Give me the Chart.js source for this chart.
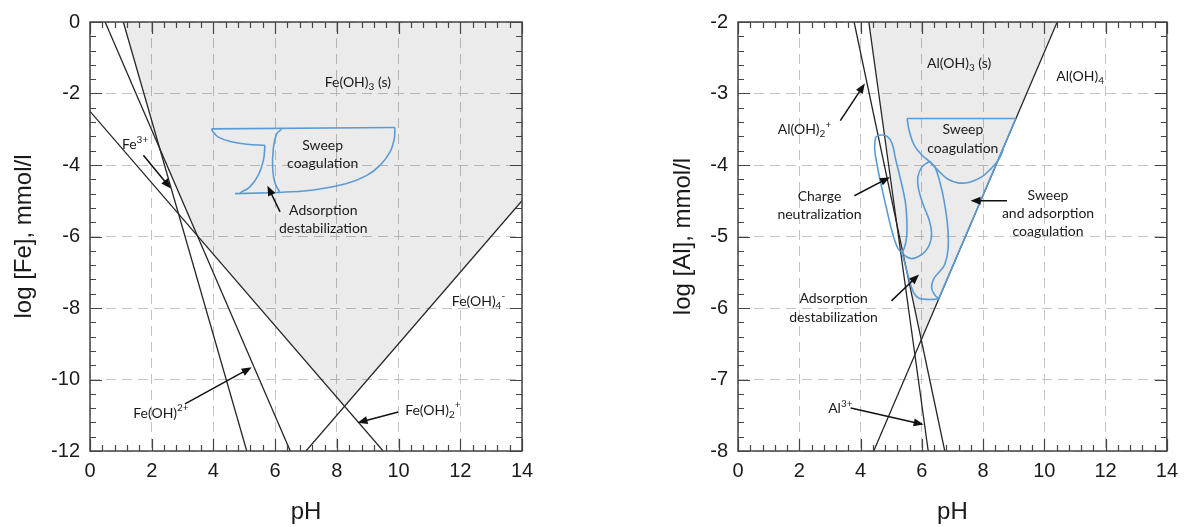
<!DOCTYPE html>
<html>
<head>
<meta charset="utf-8">
<script src="https://cdn.jsdelivr.net/npm/chart.js@4.4.1/dist/chart.umd.min.js"></script>
<style>
  body { margin: 0; background: #fff; }
  canvas { position: absolute; top: 0; }
</style>
</head>
<body>
<canvas id="grafico-fe" width="560" height="527" style="left:0"></canvas>
<canvas id="grafico-al" width="546" height="527" style="left:640px"></canvas>
<script>
// ---- Fe diagram (lines) ----
const feFe3 = [{x: 1.08, y: 0}, {x: 5.08, y: -12}];
const feFeOH2plus = [{x: 0.49, y: 0}, {x: 6.49, y: -12}];
const feFeOH2 = [{x: 0, y: -2.5}, {x: 9.5, y: -12}];
const feFeOH4 = [{x: 7, y: -12}, {x: 14, y: -5}];
const feSolidEdge = [{x: 1.08, y: 0}, {x: 2.26, y: -3.54}, {x: 3.48, y: -5.98}, {x: 8.25, y: -10.75}, {x: 14, y: -5}];
// sweep coagulation "anvil"
const feSweepTop = [{x: 3.94, y: -2.99}, {x: 9.88, y: -2.95}];
const feSweepRight = [{x: 9.88, y: -2.95}, {x: 9.86, y: -3.27}, {x: 9.72, y: -3.64}, {x: 9.40, y: -4.01}, {x: 8.97, y: -4.29}, {x: 8.32, y: -4.52}, {x: 7.24, y: -4.70}, {x: 6.16, y: -4.77}];
const feSweepBottom = [{x: 6.16, y: -4.77}, {x: 4.70, y: -4.80}];
const feNeck = [{x: 4.86, y: -4.78}, {x: 5.18, y: -4.61}, {x: 5.45, y: -4.29}, {x: 5.62, y: -3.87}, {x: 5.67, y: -3.45}];
const feHorn = [{x: 5.67, y: -3.45}, {x: 5.08, y: -3.42}, {x: 4.54, y: -3.34}, {x: 4.16, y: -3.22}, {x: 3.98, y: -3.06}, {x: 3.94, y: -2.99}];
const feInner = [{x: 6.21, y: -3.00}, {x: 6.05, y: -3.13}, {x: 5.94, y: -3.55}, {x: 5.92, y: -4.10}, {x: 6.0, y: -4.52}, {x: 6.16, y: -4.77}];

const feLabels = [
  {x: 8.68, y: -1.69, parts: [['Fe(OH)'], ['3', 'sub'], [' (s)']]},
  {x: 7.54, y: -3.45, parts: [['Sweep']]},
  {x: 7.54, y: -3.96, parts: [['coagulation']]},
  {x: 7.56, y: -5.26, parts: [['Adsorption']]},
  {x: 7.56, y: -5.77, parts: [['destabilization']]},
  {x: 1.46, y: -3.43, parts: [['Fe'], ['3+', 'sup']]},
  {x: 2.30, y: -10.95, parts: [['Fe(OH)'], ['2+', 'sup']]},
  {x: 11.11, y: -10.86, parts: [['Fe(OH)'], ['2', 'sub'], ['+', 'sup']]},
  {x: 12.59, y: -7.81, parts: [['Fe(OH)'], ['4', 'sub'], ['-', 'sup']]}
];
const feArrows = [
  [1.73, -3.73, 2.62, -4.66],
  [3.08, -10.68, 5.24, -9.66],
  [9.99, -10.91, 8.67, -11.21],
  [6.16, -5.31, 5.75, -4.58]
];

// ---- Al diagram ----
const alAl3 = [{x: 4.27, y: -2}, {x: 6.21, y: -8}];
const alAlOH2 = [{x: 3.79, y: -2}, {x: 6.75, y: -8}];
const alAlOH4 = [{x: 4.43, y: -8}, {x: 10.42, y: -2}];
const alSolidEdge = [{x: 4.27, y: -2}, {x: 5.23, y: -4.88}, {x: 6.0, y: -6.42}, {x: 10.42, y: -2}];
const alSweepTop = [{x: 5.52, y: -3.35}, {x: 9.07, y: -3.35}];
const alEdgeBlue = [{x: 9.07, y: -3.35}, {x: 6.55, y: -5.87}];
const alSweepLeft = [{x: 5.52, y: -3.35}, {x: 5.60, y: -3.54}, {x: 5.76, y: -3.73}, {x: 6.0, y: -3.86}, {x: 6.25, y: -3.95}];
const alSweepBottom = [{x: 6.25, y: -3.95}, {x: 6.59, y: -4.10}, {x: 6.86, y: -4.20}, {x: 7.18, y: -4.25}, {x: 7.56, y: -4.24}, {x: 7.94, y: -4.17}, {x: 8.26, y: -4.05}, {x: 8.53, y: -3.91}, {x: 8.66, y: -3.78}];
const alSLeft = [{x: 6.25, y: -3.95}, {x: 6.0, y: -4.03}, {x: 5.87, y: -4.17}, {x: 5.89, y: -4.33}, {x: 6.05, y: -4.56}, {x: 6.24, y: -4.77}, {x: 6.32, y: -4.95}, {x: 6.27, y: -5.09}, {x: 6.11, y: -5.21}, {x: 5.89, y: -5.28}, {x: 5.67, y: -5.31}, {x: 5.49, y: -5.28}, {x: 5.35, y: -5.22}];
const alSRight = [{x: 6.25, y: -3.95}, {x: 6.43, y: -4.03}, {x: 6.59, y: -4.24}, {x: 6.73, y: -4.51}, {x: 6.84, y: -4.84}, {x: 6.86, y: -5.16}, {x: 6.75, y: -5.39}, {x: 6.54, y: -5.51}, {x: 6.38, y: -5.60}, {x: 6.32, y: -5.72}, {x: 6.43, y: -5.82}, {x: 6.55, y: -5.87}];
const alLowerLoop = [{x: 5.35, y: -5.22}, {x: 5.40, y: -5.30}, {x: 5.49, y: -5.45}, {x: 5.60, y: -5.62}, {x: 5.73, y: -5.78}, {x: 5.89, y: -5.86}, {x: 6.16, y: -5.88}, {x: 6.40, y: -5.88}, {x: 6.55, y: -5.87}];
const alCharge = [{x: 4.49, y: -3.61}, {x: 4.65, y: -3.58}, {x: 4.87, y: -3.60}, {x: 5.03, y: -3.70}, {x: 5.14, y: -3.91}, {x: 5.30, y: -4.19}, {x: 5.46, y: -4.51}, {x: 5.51, y: -4.75}, {x: 5.51, y: -4.98}, {x: 5.43, y: -5.16}, {x: 5.32, y: -5.21}, {x: 5.19, y: -5.14}, {x: 5.03, y: -4.93}, {x: 4.87, y: -4.65}, {x: 4.70, y: -4.33}, {x: 4.54, y: -4.00}, {x: 4.46, y: -3.77}, {x: 4.49, y: -3.61}];

const alLabels = [
  {x: 7.22, y: -2.58, parts: [['Al(OH)'], ['3', 'sub'], [' (s)']]},
  {x: 11.17, y: -2.76, parts: [['Al(OH)'], ['4', 'sub']]},
  {x: 2.17, y: -3.51, parts: [['Al(OH)'], ['2', 'sub'], ['+', 'sup']]},
  {x: 7.34, y: -3.51, parts: [['Sweep']]},
  {x: 7.34, y: -3.77, parts: [['coagulation']]},
  {x: 2.66, y: -4.44, parts: [['Charge']]},
  {x: 2.66, y: -4.69, parts: [['neutralization']]},
  {x: 10.12, y: -4.42, parts: [['Sweep']]},
  {x: 10.12, y: -4.68, parts: [['and adsorption']]},
  {x: 10.12, y: -4.93, parts: [['coagulation']]},
  {x: 3.12, y: -5.87, parts: [['Adsorption']]},
  {x: 3.12, y: -6.13, parts: [['destabilization']]},
  {x: 3.34, y: -7.41, parts: [['Al'], ['3+', 'sup']]}
];
const alArrows = [
  [3.34, -3.38, 4.14, -2.86],
  [3.80, -4.43, 4.96, -4.17],
  [8.78, -4.50, 7.59, -4.50],
  [5.01, -5.90, 5.91, -5.53],
  [3.68, -7.40, 6.06, -7.63]
];

const NOTE_FONT = 'Lato, "Open Sans", sans-serif';
const AXIS_FONT = '"Liberation Sans", Arial, sans-serif';

function drawRich(ctx, parts, cx, cy, size) {
    const small = Math.round(size * 0.68);
    let w = 0;
    parts.forEach(p => {
        ctx.font = (p[1] ? small : size) + 'px ' + NOTE_FONT;
        w += ctx.measureText(p[0]).width;
    });
    let x = cx - w / 2;
    ctx.textAlign = 'left';
    ctx.textBaseline = 'middle';
    parts.forEach(p => {
        ctx.font = (p[1] ? small : size) + 'px ' + NOTE_FONT;
        let dy = 0;
        if (p[1] === 'sub') dy = size * 0.3;
        if (p[1] === 'sup') dy = -size * 0.38;
        ctx.fillText(p[0], x, cy + dy);
        x += ctx.measureText(p[0]).width;
    });
}

function drawArrow(ctx, x1, y1, x2, y2) {
    const a = Math.atan2(y2 - y1, x2 - x1);
    const L = 10, W = 4;
    ctx.beginPath();
    ctx.moveTo(x1, y1);
    ctx.lineTo(x2 - L * 0.7 * Math.cos(a), y2 - L * 0.7 * Math.sin(a));
    ctx.stroke();
    ctx.beginPath();
    ctx.moveTo(x2, y2);
    ctx.lineTo(x2 - L * Math.cos(a) + W * Math.sin(a), y2 - L * Math.sin(a) - W * Math.cos(a));
    ctx.lineTo(x2 - L * Math.cos(a) - W * Math.sin(a), y2 - L * Math.sin(a) + W * Math.cos(a));
    ctx.closePath();
    ctx.fill();
}

// moldura, marcas de escala e anotações
const notesPlugin = {
    id: 'notes',
    afterDatasetsDraw(chart, args, opts) {
        const ctx = chart.ctx;
        const xs = chart.scales.x, ys = chart.scales.y;
        const area = chart.chartArea;
        ctx.save();
        ctx.strokeStyle = '#444';
        ctx.lineWidth = 1.5;
        ctx.strokeRect(area.left, area.top, area.right - area.left, area.bottom - area.top);
        ctx.lineWidth = 1.2;
        ctx.beginPath();
        for (let i = 0; i <= 35; i++) {
            const v = xs.min + i * 0.4;
            const px = Math.round(xs.getPixelForValue(v)) + 0.5;
            const len = i % 5 === 0 ? 12 : 6;
            ctx.moveTo(px, area.top); ctx.lineTo(px, area.top + len);
            ctx.moveTo(px, area.bottom); ctx.lineTo(px, area.bottom - len);
        }
        const n = Math.round((ys.max - ys.min) / opts.yMinor);
        for (let i = 0; i <= n; i++) {
            const v = ys.min + i * opts.yMinor;
            const py = Math.round(ys.getPixelForValue(v)) + 0.5;
            const len = i % 5 === 0 ? 12 : 6;
            ctx.moveTo(area.left, py); ctx.lineTo(area.left + len, py);
            ctx.moveTo(area.right, py); ctx.lineTo(area.right - len, py);
        }
        ctx.stroke();

        ctx.fillStyle = '#1a1a1a';
        opts.labels.forEach(l => {
            drawRich(ctx, l.parts, xs.getPixelForValue(l.x), ys.getPixelForValue(l.y), 14);
        });
        ctx.strokeStyle = '#111';
        ctx.fillStyle = '#111';
        ctx.lineWidth = 1.5;
        opts.arrows.forEach(a => {
            drawArrow(ctx, xs.getPixelForValue(a[0]), ys.getPixelForValue(a[1]),
                xs.getPixelForValue(a[2]), ys.getPixelForValue(a[3]));
        });
        ctx.restore();
    }
};

function blackLine(data) {
    return {data: data, showLine: true, borderColor: '#262626', borderWidth: 1.3, pointRadius: 0, tension: 0};
}
function blueLine(data, tension) {
    return {data: data, showLine: true, borderColor: '#5b9bd5', borderWidth: 1.6, pointRadius: 0, tension: tension};
}
function solidArea(data) {
    return {data: data, showLine: true, borderWidth: 0, borderColor: 'rgba(0,0,0,0)', pointRadius: 0,
        fill: 'end', backgroundColor: 'rgba(0,0,0,0.08)'};
}

function makeOptions(cfg) {
    return {
        responsive: false,
        animation: false,
        events: [],
        layout: {padding: {top: 19, right: cfg.rightPad, left: 0, bottom: 0}},
        plugins: {
            legend: {display: false},
            tooltip: {enabled: false},
            notes: {labels: cfg.labels, arrows: cfg.arrows, yMinor: cfg.yMinor}
        },
        scales: {
            x: {
                type: 'linear', min: 0, max: 14,
                ticks: {stepSize: 2, padding: 8, color: '#1a1a1a', font: {family: AXIS_FONT, size: 20}},
                grid: {color: '#c4c4c4', drawTicks: false, lineWidth: 1},
                border: {display: false, dash: [10, 6]},
                title: {display: true, text: 'pH', color: '#1a1a1a', font: {family: AXIS_FONT, size: 24}, padding: {top: 0, bottom: 0}},
                afterFit(s) { s.height = 76; }
            },
            y: {
                type: 'linear', min: cfg.yMin, max: cfg.yMax,
                ticks: {stepSize: cfg.yStep, padding: 10, color: '#1a1a1a', font: {family: AXIS_FONT, size: 20}},
                grid: {color: '#c4c4c4', drawTicks: false, lineWidth: 1},
                border: {display: false, dash: [10, 6]},
                title: {display: true, text: cfg.yTitle, color: '#1a1a1a', font: {family: AXIS_FONT, size: 24}, padding: {top: cfg.titlePad, bottom: 0}},
                afterFit(s) { s.width = cfg.yWidth; }
            }
        }
    };
}

document.addEventListener('DOMContentLoaded', function () {
    const ctxFe = document.getElementById('grafico-fe').getContext('2d');
    const ctxAl = document.getElementById('grafico-al').getContext('2d');

    new Chart(ctxFe, {
        type: 'scatter',
        data: {
            datasets: [
                blueLine(feSweepTop, 0),
                blueLine(feSweepRight, 0.4),
                blueLine(feSweepBottom, 0),
                blueLine(feNeck, 0.4),
                blueLine(feHorn, 0.4),
                blueLine(feInner, 0.4),
                blackLine(feFe3),
                blackLine(feFeOH2plus),
                blackLine(feFeOH2),
                blackLine(feFeOH4),
                solidArea(feSolidEdge)
            ]
        },
        options: makeOptions({rightPad: 38, yMin: -12, yMax: 0, yStep: 2, yMinor: 0.4, yWidth: 90, titlePad: 10,
            yTitle: 'log [Fe], mmol/l', labels: feLabels, arrows: feArrows}),
        plugins: [notesPlugin]
    });

    new Chart(ctxAl, {
        type: 'scatter',
        data: {
            datasets: [
                blueLine(alSweepTop, 0),
                blueLine(alEdgeBlue, 0),
                blueLine(alSweepLeft, 0.4),
                blueLine(alSweepBottom, 0.4),
                blueLine(alSLeft, 0.4),
                blueLine(alSRight, 0.4),
                blueLine(alLowerLoop, 0.4),
                blueLine(alCharge, 0.4),
                blackLine(alAl3),
                blackLine(alAlOH2),
                blackLine(alAlOH4),
                solidArea(alSolidEdge)
            ]
        },
        options: makeOptions({rightPad: 16, yMin: -8, yMax: -2, yStep: 1, yMinor: 0.2, yWidth: 98, titlePad: 29,
            yTitle: 'log [Al], mmol/l', labels: alLabels, arrows: alArrows}),
        plugins: [notesPlugin]
    });
});
</script>
</body>
</html>
